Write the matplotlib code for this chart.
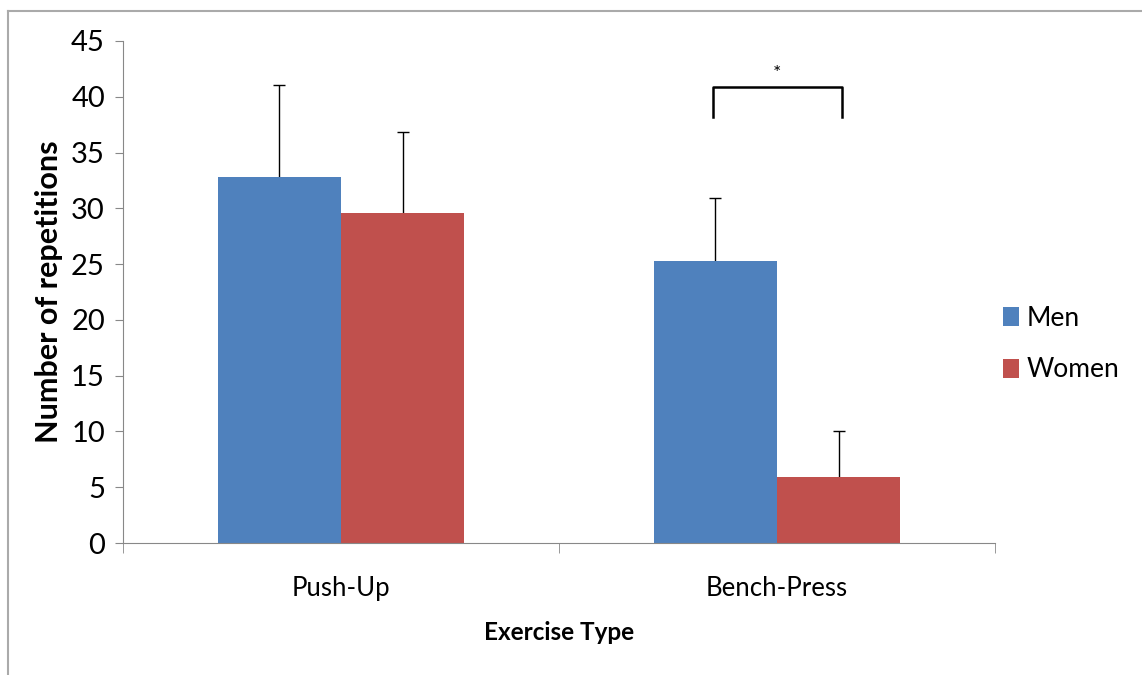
import matplotlib.pyplot as plt
import numpy as np
from matplotlib.lines import Line2D

plt.rcParams['font.family'] = ['Lato', 'DejaVu Sans']

# data
exercises = ['Push-Up', 'Bench-Press']
men = [32.8, 25.3]
women = [29.6, 5.9]
men_err = [8.3, 5.6]
women_err = [7.2, 4.1]

blue = '#4f81bd'
red = '#c0504d'

fig = plt.figure(figsize=(11.42, 6.75), dpi=100)
ax = fig.add_axes([123/1142, 1 - 543/675, (995-123)/1142, (543-41)/675])

x = np.arange(len(exercises))
w = 0.283
ax.bar(x - w/2, men, w, color=blue, label='Men', zorder=2)
ax.bar(x + w/2, women, w, color=red, label='Women', zorder=2)

# error bars drawn behind the bars, so only the upper half shows
ax.errorbar(x - w/2, men, yerr=men_err, fmt='none',
            ecolor='black', elinewidth=1, capsize=4, capthick=1, zorder=1)
ax.errorbar(x + w/2, women, yerr=women_err, fmt='none',
            ecolor='black', elinewidth=1, capsize=4, capthick=1, zorder=1)

# significance bracket on bench press
bx0, bx1 = 1 - 0.147, 1 + 0.15
ax.plot([bx0, bx0, bx1, bx1], [38.2, 40.9, 40.9, 38.2], color='black', lw=1.8)
ax.text(1.0, 41.3, '*', ha='center', va='bottom', fontsize=14)

ax.set_xlim(-0.5, 1.5)
ax.set_ylim(0, 45)
ax.set_yticks(range(0, 46, 5))
ax.set_xticks(x)
ax.set_xticklabels(exercises)
ax.set_xticks([-0.5, 0.5, 1.5], minor=True)
ax.tick_params(axis='x', which='major', length=0, pad=24, labelsize=18.5)
ax.tick_params(axis='x', which='minor', length=7, color='#888888')
ax.tick_params(axis='y', length=6, color='#888888', labelsize=21, pad=7)

for s in ['top', 'right']:
    ax.spines[s].set_visible(False)
for s in ['left', 'bottom']:
    ax.spines[s].set_color('#888888')

ax.set_ylabel('Number of repetitions', fontsize=22, fontweight='bold', labelpad=6)
ax.set_xlabel('Exercise Type', fontsize=17.5, fontweight='bold', labelpad=14)

ax.legend(loc='center left', bbox_to_anchor=(0.988, 0.396), frameon=False,
          fontsize=19, handlelength=0.6, handleheight=0.75, handletextpad=0.3,
          labelspacing=1.0, borderaxespad=0.3)

# outer frame
fig.add_artist(Line2D([8/1142, 1], [1 - 11/675, 1 - 11/675], color='#aaaaaa', lw=1.5))
fig.add_artist(Line2D([8/1142, 8/1142], [0, 1 - 11/675], color='#aaaaaa', lw=1.5))

fig.savefig('out.png', dpi=100)
